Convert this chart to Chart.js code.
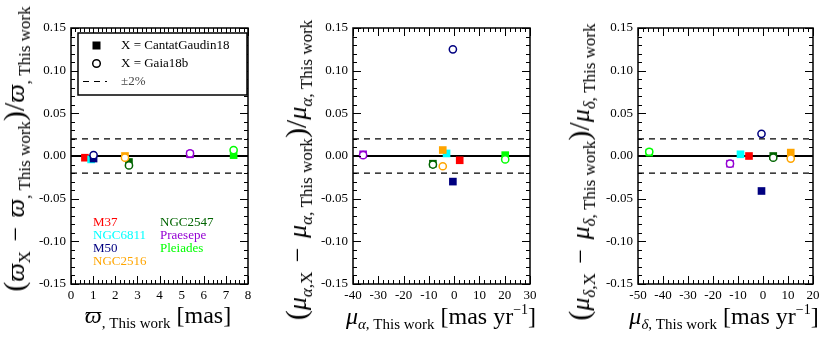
<!DOCTYPE html>
<html>
<head>
<meta charset="utf-8">
<script src="https://cdn.jsdelivr.net/npm/chart.js@4/dist/chart.umd.min.js"></script>
<style>
  body { margin: 0; background: #fff; width: 831px; height: 338px; position: relative; overflow: hidden; font-family: "Liberation Serif", serif; }
  canvas { position: absolute; top: 0; }
  .lab { position: absolute; white-space: nowrap; font-size: 24px; line-height: 1; color: #000; }
  .lab sub { font-size: 15px; vertical-align: -5px; }
  .lab sup { font-size: 14px; vertical-align: 10px; }
  .ylab { transform: translate(-50%, -50%) rotate(-90deg); font-size: 26px; }
  .ylab sub { font-size: 17px; vertical-align: -6px; }
  .ylab .big { font-size: 30px; }
  .ylab .op { margin: 0 3px; }
  .xlab { transform: translate(-50%, -50%); }
</style>
</head>
<body>
<canvas id="c1" width="270" height="338" style="left:0px"></canvas>
<canvas id="c2" width="280" height="338" style="left:270px"></canvas>
<canvas id="c3" width="281" height="338" style="left:550px"></canvas>

<div class="lab ylab" style="left:16px;top:149px"><span class="big">(</span><i>ϖ</i><sub>X</sub> <span class="op">−</span> <i>ϖ</i><sub>, This work</sub><span class="big">)/</span><i>ϖ</i><sub>, This work</sub></div>
<div class="lab ylab" style="left:298px;top:170px"><span class="big">(</span><i>μ</i><sub><i>α</i>,X</sub> <span class="op">−</span> <i>μ</i><sub><i>α</i>, This work</sub><span class="big">)/</span><i>μ</i><sub><i>α</i>, This work</sub></div>
<div class="lab ylab" style="left:581px;top:172px"><span class="big">(</span><i>μ</i><sub><i>δ</i>,X</sub> <span class="op">−</span> <i>μ</i><sub><i>δ</i>, This work</sub><span class="big">)/</span><i>μ</i><sub><i>δ</i>, This work</sub></div>

<div class="lab xlab" style="left:158px;top:317px"><i>ϖ</i><sub>, This work</sub> [mas]</div>
<div class="lab xlab" style="left:441px;top:317px"><i>μ</i><sub><i>α</i>, This work</sub> [mas yr<sup>−1</sup>]</div>
<div class="lab xlab" style="left:724px;top:317px"><i>μ</i><sub><i>δ</i>, This work</sub> [mas yr<sup>−1</sup>]</div>

<script>
// clusters, in plotting order
const clusters = ['M37', 'NGC6811', 'M50', 'NGC2516', 'NGC2547', 'Praesepe', 'Pleiades']
const clusterColors = ['#ff0000', '#00ffff', '#000080', '#ffa500', '#006400', '#9400d3', '#00ff00']

// parallax panel
const plxThisWork = [0.63, 0.91, 1.02, 2.44, 2.62, 5.38, 7.35]
const plxDiffCG   = [-0.002, -0.004, -0.003, 0.000, -0.007, 0.002, 0.001]
const plxDiffGaia = [null, null, 0.001, -0.002, -0.011, 0.003, 0.007]

// pmra panel
const pmraThisWork = [2.2, -3.0, -0.5, -4.5, -8.4, -36.0, 20.2]
const pmraDiffCG   = [-0.005, 0.003, -0.030, 0.007, -0.009, 0.002, 0.001]
const pmraDiffGaia = [null, null, 0.125, -0.012, -0.010, 0.001, -0.004]

// pmdec panel
const pmdecThisWork = [-5.6, -9.0, -0.6, 11.1, 4.1, -13.2, -45.5]
const pmdecDiffCG   = [0.000, 0.002, -0.041, 0.004, 0.000, -0.009, 0.004]
const pmdecDiffGaia = [null, null, 0.026, -0.003, -0.002, -0.009, 0.005]

const yLimits = [-0.15, 0.15]
const yTicks = [-0.15, -0.10, -0.05, 0.00, 0.05, 0.10, 0.15]
const band = 0.02
const legendLabels = ['X = CantatGaudin18', 'X = Gaia18b', '±2%']

const serif = 'Liberation Serif'

const frameTicks = {
  id: 'frameTicks',
  afterDatasetsDraw(chart, args, o) {
    const { ctx, chartArea: a, scales: { x, y } } = chart
    ctx.save()
    ctx.strokeStyle = '#000'
    ctx.lineWidth = 1
    ctx.beginPath()
    let n = Math.round((o.xMax - o.xMin) / o.xMinor)
    for (let i = 0; i <= n; i++) {
      const v = o.xMin + i * o.xMinor
      const r = v / o.xMajor
      const len = Math.abs(r - Math.round(r)) < 1e-6 ? 8 : 4
      const px = Math.round(x.getPixelForValue(v)) + 0.5
      ctx.moveTo(px, a.bottom); ctx.lineTo(px, a.bottom - len)
      ctx.moveTo(px, a.top); ctx.lineTo(px, a.top + len)
    }
    n = Math.round((yLimits[1] - yLimits[0]) / 0.01)
    for (let i = 0; i <= n; i++) {
      const len = i % 5 === 0 ? 8 : 4
      const py = Math.round(y.getPixelForValue(yLimits[0] + i * 0.01)) + 0.5
      ctx.moveTo(a.left, py); ctx.lineTo(a.left + len, py)
      ctx.moveTo(a.right, py); ctx.lineTo(a.right - len, py)
    }
    ctx.stroke()
    ctx.lineWidth = 1.5
    ctx.strokeRect(a.left, a.top, a.right - a.left, a.bottom - a.top)
    ctx.restore()
  }
}

const legendBox = {
  id: 'legendBox',
  afterDraw(chart) {
    const { ctx } = chart
    ctx.save()
    ctx.fillStyle = '#fff'
    ctx.fillRect(78, 33, 169, 62)
    ctx.strokeStyle = '#000'
    ctx.lineWidth = 1.5
    ctx.strokeRect(78, 33, 169, 62)
    // markers
    ctx.fillStyle = '#000'
    ctx.fillRect(92.5, 41.5, 8, 8)
    ctx.beginPath()
    ctx.arc(96.5, 63.5, 3.8, 0, Math.PI * 2)
    ctx.lineWidth = 1.5
    ctx.stroke()
    ctx.beginPath()
    ctx.setLineDash([6, 5])
    ctx.lineWidth = 1.2
    ctx.moveTo(83, 81.5); ctx.lineTo(107, 81.5)
    ctx.stroke()
    ctx.setLineDash([])
    ctx.font = '13px "' + serif + '"'
    ctx.textBaseline = 'middle'
    ctx.fillText(legendLabels[0], 121, 46)
    ctx.fillText(legendLabels[1], 121, 64)
    ctx.fillStyle = '#444'
    ctx.fillText(legendLabels[2], 121, 82)
    // cluster names
    const rows = 4
    clusters.forEach((c, i) => {
      ctx.fillStyle = clusterColors[i]
      const col = Math.floor(i / rows)
      const row = i % rows
      ctx.fillText(c, col ? 160 : 93, 223 + row * 12.8)
    })
    ctx.restore()
  }
}

function makePanel(id, xs, cg, gaia, xMin, xMax, xMajor, xMinor, areaLeft, padRight, extra) {
  const lineSet = (yv, w, dash) => ({
    data: [{ x: xMin, y: yv }, { x: xMax, y: yv }],
    showLine: true, borderColor: '#000', borderWidth: w, borderDash: dash,
    pointRadius: 0, order: 3
  })
  const gaiaPts = []
  const gaiaCols = []
  xs.forEach((xv, i) => {
    if (gaia[i] !== null) { gaiaPts.push({ x: xv, y: gaia[i] }); gaiaCols.push(clusterColors[i]) }
  })
  const plugins = [frameTicks]
  if (extra) plugins.push(legendBox)
  return new Chart(document.getElementById(id), {
    type: 'scatter',
    data: {
      datasets: [
        lineSet(band, 1.2, [6, 5]),
        lineSet(-band, 1.2, [6, 5]),
        lineSet(0, 2, []),
        {
          data: xs.map((xv, i) => ({ x: xv, y: cg[i] })),
          pointStyle: 'rect', pointRadius: 5.4,
          pointBackgroundColor: clusterColors, pointBorderColor: clusterColors,
          pointBorderWidth: 0, order: 1
        },
        {
          data: gaiaPts,
          pointStyle: 'circle', pointRadius: 3.6,
          pointBackgroundColor: '#fff', pointBorderColor: gaiaCols,
          pointBorderWidth: 1.5, order: 0
        }
      ]
    },
    options: {
      responsive: false,
      animation: false,
      layout: { padding: { left: 0, right: padRight, top: 28, bottom: 0 } },
      plugins: { legend: { display: false }, tooltip: { enabled: false }, frameTicks: { xMin, xMax, xMajor, xMinor } },
      scales: {
        x: {
          type: 'linear', min: xMin, max: xMax,
          grid: { display: false, drawTicks: false }, border: { display: false },
          ticks: { stepSize: xMajor, padding: 4, color: '#000', font: { family: serif, size: 13 }, maxRotation: 0 },
          afterFit(s) { s.height = 54 }
        },
        y: {
          type: 'linear', min: yLimits[0], max: yLimits[1],
          grid: { display: false, drawTicks: false }, border: { display: false },
          afterBuildTicks(s) { s.ticks = yTicks.map(v => ({ value: v })) },
          ticks: { padding: 5, color: '#000', font: { family: serif, size: 13 }, callback: v => v.toFixed(2) },
          afterFit(s) { s.width = areaLeft }
        }
      }
    },
    plugins
  })
}

makePanel('c1', plxThisWork, plxDiffCG, plxDiffGaia, 0, 8, 1, 0.2, 71, 22, true)
makePanel('c2', pmraThisWork, pmraDiffCG, pmraDiffGaia, -40, 30, 10, 2, 83, 20, false)
makePanel('c3', pmdecThisWork, pmdecDiffCG, pmdecDiffGaia, -50, 20, 10, 2, 88, 18, false)
</script>
</body>
</html>
